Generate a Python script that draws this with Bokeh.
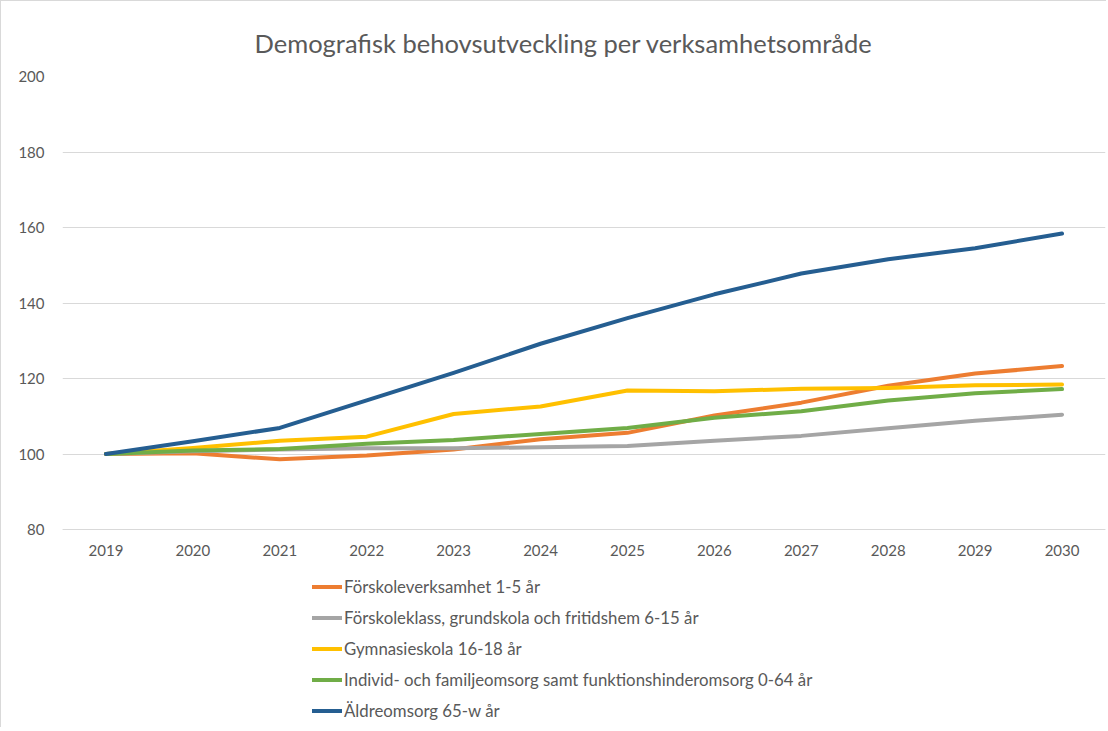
from bokeh.plotting import figure
from bokeh.models import Range1d, FactorRange, Legend, LegendItem, FixedTicker, ColumnDataSource, CategoricalAxis
from bokeh.embed import file_html
from bokeh.resources import INLINE

years = ["2019", "2020", "2021", "2022", "2023", "2024", "2025", "2026", "2027", "2028", "2029", "2030"]

forskola = [100, 100.2, 98.6, 99.6, 101.2, 103.9, 105.6, 110.2, 113.6, 118.1, 121.3, 123.3]
grundskola = [100, 100.7, 101.2, 101.5, 101.5, 101.8, 102.1, 103.5, 104.8, 106.8, 108.8, 110.4]
gymnasie = [100, 101.6, 103.5, 104.6, 110.6, 112.6, 116.8, 116.6, 117.3, 117.5, 118.2, 118.4]
individ = [100, 100.9, 101.3, 102.7, 103.7, 105.3, 106.9, 109.6, 111.3, 114.2, 116.1, 117.2]
aldre = [100, 103.4, 106.9, 114.2, 121.5, 129.2, 136.0, 142.3, 147.8, 151.6, 154.5, 158.4]

y_ticks = [80, 100, 120, 140, 160, 180, 200]

series_names = [
    "Förskoleverksamhet 1-5 år",
    "Förskoleklass, grundskola och fritidshem 6-15 år",
    "Gymnasieskola 16-18 år",
    "Individ- och familjeomsorg samt funktionshinderomsorg 0-64 år",
    "Äldreomsorg 65-w år",
]
series_values = [forskola, grundskola, gymnasie, individ, aldre]
colors = ["#ED7D31", "#A5A5A5", "#FFC000", "#70AD47", "#255E91"]

FONT = "Lato"
TXT = "#595959"

W, H = 1106, 727
TOP, BOTTOM = 75, 2
plot_px = 453.0  # pixel height of the 80..200 value band
frame_h = H - TOP - BOTTOM
y_min, y_max = y_ticks[0], y_ticks[-1]
y_start = y_max - frame_h * (y_max - y_min) / plot_px

p = figure(
    width=W, height=H,
    x_range=FactorRange(*years, range_padding=0),
    y_range=Range1d(y_start, y_max),
    output_backend="svg", toolbar_location=None,
    min_border_left=61, min_border_right=2, min_border_top=TOP, min_border_bottom=BOTTOM,
    title="Demografisk behovsutveckling per verksamhetsområde",
    x_axis_location=None,
)
p.styles = {"border-left": "1px solid #d9d9d9", "border-top": "1px solid #d9d9d9"}

p.title.align = "left"
p.title.offset = 192
p.title.text_font = FONT
p.title.text_font_size = "25.5px"
p.title.text_font_style = "normal"
p.title.text_color = TXT
p.title.standoff = 37

p.outline_line_color = None
p.background_fill_color = "white"
p.border_fill_color = "white"

p.xgrid.grid_line_color = None
p.ygrid.grid_line_color = "#d9d9d9"
p.ygrid.grid_line_width = 1
p.yaxis.ticker = FixedTicker(ticks=y_ticks)

xax = CategoricalAxis(fixed_location=y_min)
p.add_layout(xax, "below")

for ax in (xax, p.yaxis[0]):
    ax.major_tick_line_color = None
    ax.minor_tick_line_color = None
    ax.major_label_text_font = FONT
    ax.major_label_text_font_size = "15px"
    ax.major_label_text_color = TXT
p.yaxis.major_label_standoff = 12
p.yaxis.axis_line_color = None
xax.axis_line_color = "#d9d9d9"
xax.major_label_standoff = 9

items = []
for name, vals, c in zip(series_names, series_values, colors):
    src = ColumnDataSource(dict(x=years, y=vals))
    r = p.line("x", "y", source=src, line_color=c, line_width=4, line_cap="round", line_join="round")
    items.append(LegendItem(label=name, renderers=[r]))

legend = Legend(
    items=items,
    location=(250, 0),
    orientation="vertical",
    label_text_font=FONT,
    label_text_font_size="16.8px",
    label_text_color=TXT,
    glyph_width=30,
    glyph_height=31,
    label_height=31,
    label_standoff=2,
    spacing=0,
    padding=0,
    margin=0,
    border_line_color=None,
    background_fill_alpha=0,
)
p.add_layout(legend, "center")

open("out.html", "w").write(file_html(p, INLINE))
